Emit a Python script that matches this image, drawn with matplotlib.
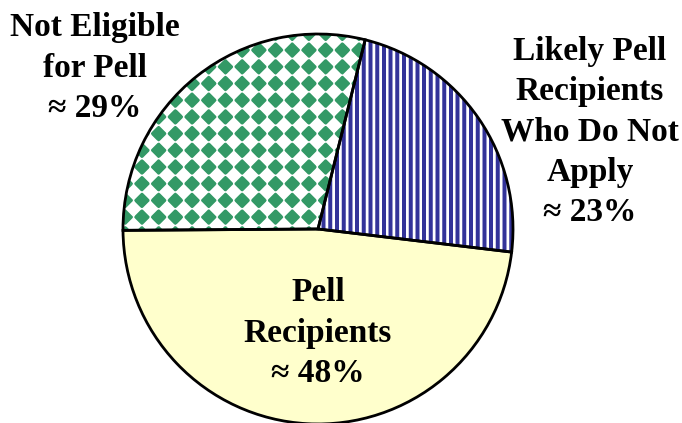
import numpy as np
import matplotlib
matplotlib.use("Agg")
import matplotlib.pyplot as plt

# ---- data ----
categories = ["Likely Pell\nRecipients\nWho Do Not\nApply\n\u2248 23%",
              "Not Eligible\nfor Pell\n\u2248 29%",
              "Pell\nRecipients\n\u2248 48%"]
shares = [23, 29, 48]

W, H = 682, 423
fig = plt.figure(figsize=(W / 100, H / 100), dpi=100)
ax = fig.add_axes([0, 0, 1, 1])

cx, cy, R = 318, H - 229, 195
start = -6.8

yellow = "#FFFFCC"
green = "#339966"
blue = "#333399"

wedges, _ = ax.pie(shares, startangle=start, counterclock=True,
                   center=(cx, cy), radius=R,
                   colors=["white", "white", yellow],
                   wedgeprops=dict(linewidth=0, edgecolor="none"))

# ---- texture images ----
ss = 4
yy, xx = np.mgrid[0:H * ss, 0:W * ss].astype(float)
xx = (xx + 0.5) / ss
yy = (yy + 0.5) / ss

# vertical stripes
Ps = 6.7
stripe = ((xx % Ps) < 4.0).astype(float)
stripe = stripe.reshape(H, ss, W, ss).mean(axis=(1, 3))

# diagonal checker (solid diamonds)
Pd = 16.7
u = (xx + yy) / Pd
v = (xx - yy) / Pd
du = np.abs((u % 1.0) - 0.5)
dv = np.abs((v % 1.0) - 0.5)
par = (np.floor(u) + np.floor(v)) % 2 == 0
inner = (du ** 8 + dv ** 8) ** (1 / 8) < 0.5
diam = (par & inner).astype(float)
diam = diam.reshape(H, ss, W, ss).mean(axis=(1, 3))


def rgba_from(mask, color):
    c = np.array(matplotlib.colors.to_rgb(color))
    img = np.ones((H, W, 4))
    for k in range(3):
        img[..., k] = 1.0 * (1 - mask) + c[k] * mask
    return img


im1 = ax.imshow(rgba_from(stripe, blue), extent=(0, W, 0, H), origin="upper",
                interpolation="nearest", zorder=1.5)
im1.set_clip_path(wedges[0])
im2 = ax.imshow(rgba_from(diam, green), extent=(0, W, 0, H), origin="upper",
                interpolation="nearest", zorder=1.5)
im2.set_clip_path(wedges[1])

# outlines
ax.pie(shares, startangle=start, counterclock=True, center=(cx, cy), radius=R,
       colors=["none"] * 3,
       wedgeprops=dict(linewidth=2.0, edgecolor="black", fill=False, zorder=3))

ax.set_xlim(0, W)
ax.set_ylim(0, H)
ax.set_aspect("auto")
ax.axis("off")

font = dict(family=["Liberation Serif", "DejaVu Serif"], fontweight="bold",
            fontsize=24, ha="center", va="center", multialignment="center",
            linespacing=1.38, color="black")
ax.text(590, H - 132, categories[0], **font)
ax.text(95, H - 68, categories[1], **font)
ax.text(318, H - 333, categories[2], **font)

fig.savefig("out.png", dpi=100)
